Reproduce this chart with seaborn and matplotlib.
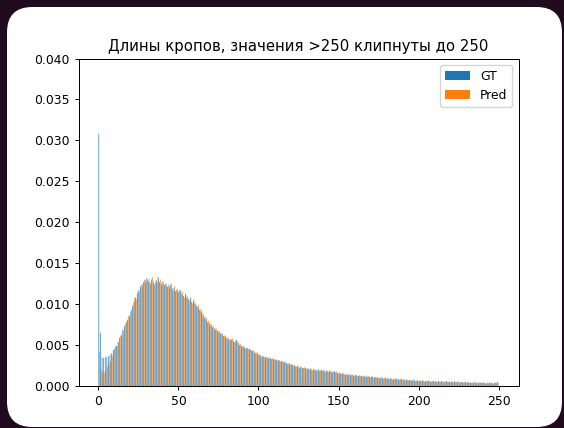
import numpy as np
import pandas as pd
import seaborn as sns
import matplotlib
matplotlib.use("Agg")
import matplotlib.pyplot as plt
from matplotlib.patches import FancyBboxPatch, Patch

# Crop lengths, one bin per integer 0..249 (values >250 were clipped to 250)
bin_edges = list(range(0, 251))
series_names = ["GT", "Pred"]
series_colors = ["#1f77b4", "#ff7f0e"]
tick_values = [0, 50, 100, 150, 200, 250]
title_text = "Длины кропов, значения >250 клипнуты до 250"

# Density per bin
gt_density = [
    .0308, .0065, .0035, .0034, .0035, .0036, .0036, .0038, .0040, .0043,
    .0046, .0049, .0054, .0059, .0063, .0069, .0073, .0077, .0081, .0086,
    .0091, .0097, .0103, .0108, .0113, .0117, .0121, .0124, .0127, .0129,
    .0132, .0128, .0126, .0130, .0127, .0124, .0129, .0133, .0127, .0125,
    .0128, .0123, .0125, .0121, .0122, .0124, .0119, .0120, .0116, .0118,
    .0115, .0117, .0112, .0110, .0113, .0108, .0106, .0107, .0103, .0104,
    .0100, .0098, .0096, .0093, .0090, .0086, .0083, .0081, .0078, .0076,
    .0074, .0072, .0070, .0069, .0067, .0066, .0064, .0063, .0061, .0060,
    .0058, .0057, .0056, .0057, .0055, .0053, .0056, .0052, .0050, .0049,
    .0048, .0047, .0046, .0046, .0045, .0044, .0043, .0041, .0040, .0040,
    .0038, .0037, .0036, .0036, .0035, .0035, .0034, .0034, .0033, .0033,
    .0032, .0032, .0031, .0031, .0030, .0030, .0029, .0028, .0027, .0027,
    .0026, .0026, .0025, .0024, .0024, .0023, .0023, .0022, .0022, .0022,
    .0021, .0021, .0021, .0020, .0020, .0020, .0019, .0020, .0019, .0019,
    .0019, .0018, .0019, .0018, .0018, .0018, .0017, .0018, .0017, .0016,
    .0016, .0015, .0015, .0015, .0014, .0014, .0014, .0013, .0014, .0013,
    .0013, .0013, .0012, .0013, .0012, .0012, .0012, .0011, .0012, .0011,
    .0011, .0011, .0010, .0011, .0010, .0010, .0010, .0010, .0009, .0010,
    .0009, .0009, .0009, .0009, .0008, .0009, .0009, .0008, .0008, .0008,
    .0008, .0007, .0008, .0007, .0007, .0007, .0007, .0007, .0006, .0007,
    .0006, .0006, .0007, .0006, .0006, .0006, .0006, .0005, .0006, .0006,
    .0006, .0005, .0006, .0005, .0006, .0005, .0005, .0006, .0005, .0005,
    .0005, .0005, .0006, .0005, .0005, .0004, .0005, .0005, .0004, .0005,
    .0004, .0005, .0004, .0004, .0004, .0005, .0004, .0004, .0004, .0004,
    .0004, .0004, .0003, .0004, .0004, .0004, .0003, .0004, .0004, .0005,
]

pred_density = [
    .0042, .0020, .0017, .0016, .0019, .0024, .0027, .0031, .0037, .0045,
    .0049, .0048, .0053, .0061, .0060, .0067, .0075, .0079, .0085, .0084,
    .0093, .0100, .0108, .0106, .0116, .0115, .0124, .0121, .0130, .0126,
    .0130, .0131, .0124, .0133, .0125, .0128, .0126, .0132, .0130, .0122,
    .0126, .0125, .0122, .0124, .0119, .0125, .0116, .0122, .0118, .0115,
    .0117, .0114, .0115, .0108, .0111, .0110, .0104, .0109, .0101, .0106,
    .0102, .0097, .0099, .0094, .0092, .0088, .0085, .0083, .0080, .0078,
    .0075, .0074, .0071, .0070, .0068, .0067, .0065, .0064, .0062, .0061,
    .0059, .0058, .0057, .0058, .0054, .0055, .0055, .0053, .0051, .0048,
    .0049, .0046, .0047, .0045, .0046, .0043, .0044, .0042, .0041, .0039,
    .0039, .0036, .0037, .0035, .0036, .0034, .0035, .0033, .0034, .0032,
    .0033, .0031, .0032, .0030, .0031, .0029, .0030, .0028, .0028, .0026,
    .0027, .0025, .0026, .0024, .0025, .0022, .0024, .0021, .0023, .0021,
    .0022, .0020, .0022, .0019, .0021, .0019, .0020, .0018, .0020, .0018,
    .0020, .0017, .0019, .0017, .0019, .0016, .0018, .0016, .0018, .0015,
    .0017, .0015, .0016, .0014, .0015, .0013, .0015, .0013, .0014, .0012,
    .0014, .0012, .0013, .0012, .0013, .0011, .0013, .0011, .0012, .0010,
    .0012, .0010, .0011, .0010, .0011, .0009, .0011, .0009, .0010, .0009,
    .0010, .0008, .0010, .0008, .0009, .0008, .0009, .0007, .0009, .0008,
    .0008, .0007, .0008, .0007, .0008, .0006, .0008, .0006, .0007, .0006,
    .0007, .0006, .0007, .0005, .0006, .0006, .0007, .0005, .0006, .0005,
    .0006, .0005, .0006, .0005, .0006, .0004, .0006, .0005, .0005, .0005,
    .0006, .0004, .0005, .0005, .0006, .0004, .0005, .0004, .0005, .0004,
    .0005, .0004, .0004, .0004, .0005, .0003, .0004, .0004, .0004, .0004,
    .0004, .0003, .0004, .0003, .0004, .0004, .0003, .0004, .0003, .0004,
]

centers = [e + 0.5 for e in bin_edges[:-1]]
df = pd.DataFrame({
    "length": centers * 2,
    "density": gt_density + pred_density,
    "source": [series_names[0]] * len(gt_density) + [series_names[1]] * len(pred_density),
})

# Slightly reduced matplotlib defaults
s = 0.89
plt.rcParams.update({
    "font.size": 10 * s,
    "axes.titlesize": 12 * s,
    "axes.titlepad": 6 * s,
    "axes.linewidth": 0.8 * s,
    "xtick.major.size": 3.5 * s, "ytick.major.size": 3.5 * s,
    "xtick.major.width": 0.8 * s, "ytick.major.width": 0.8 * s,
    "xtick.major.pad": 3.5 * s, "ytick.major.pad": 3.5 * s,
    "legend.fontsize": 10 * s,
})

W, H, DPI = 564, 428, 100
fig = plt.figure(figsize=(W / DPI, H / DPI), dpi=DPI, facecolor="#200b1e")

# White rounded card behind the chart
x0, y0, x1, y1 = 7, 1, 562, 421   # pixel box (y measured from the bottom)
card = FancyBboxPatch((x0 / W, y0 / H), (x1 - x0) / W, (y1 - y0) / H,
                      boxstyle="round,pad=0,rounding_size=0.045",
                      transform=fig.transFigure, facecolor="white",
                      edgecolor="none", zorder=-10, mutation_aspect=W / H)
fig.patches.append(card)

ax = fig.add_axes([78.5 / W, (H - 386) / H, 440 / W, 327.5 / H])
ax.set_zorder(1)
palette = dict(zip(series_names, series_colors))
sns.histplot(data=df, x="length", weights="density", hue="source",
             hue_order=series_names, palette=palette, bins=bin_edges,
             multiple="dodge", shrink=0.8, stat="count", element="bars",
             alpha=1, linewidth=0, snap=False, legend=False, ax=ax)

ax.set_ylim(0, 0.040)
ax.set_yticks(np.arange(0, 0.0401, 0.005))
ax.yaxis.set_major_formatter(matplotlib.ticker.FormatStrFormatter("%.3f"))
ax.set_xticks(tick_values)
ax.set_xlabel("")
ax.set_ylabel("")
ax.set_title(title_text)

handles = [Patch(facecolor=c, label=n) for n, c in zip(series_names, series_colors)]
ax.legend(handles=handles, loc="upper right")

fig.savefig("out.png", dpi=DPI, facecolor=fig.get_facecolor())
